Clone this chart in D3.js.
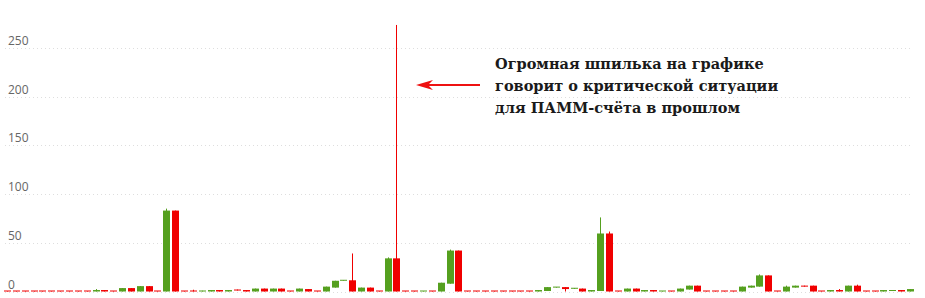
<!DOCTYPE html>
<html>
<head>
<meta charset="utf-8">
<script src="https://cdn.jsdelivr.net/npm/d3@7"></script>
<style>
	body { margin: 0; background: #fff; }
	svg { display: block; }
</style>
</head>
<body>
<div id="chart"></div>
<script>
// candle values (one per period, left to right)
var open = [
	0.5, 0.5, 0.5, 0.5, 0.5, 0.5, 0.5, 0.5, 0.5, 0.5,
	0, 1.5, 0.5, 0, 3.5, 0, 5.5, 0.5, 0, 83,
	0.5, 0.5, 0, 0, 1.5, 0, 2, 1.5, 0, 3,
	0, 3, 0.5, 0, 2.5, 0.5, 0, 4, 11, 11.5,
	0, 4, 0.5, 0, 34, 0.5, 0.5, 0, 0.5, 0,
	8, 42, 0.5, 0.5, 0.5, 0.5, 0.5, 0.5, 0.5, 0.5,
	0, 0.5, 4, 4.5, 2.8, 3, 0, 0.5, 59.5, 0.5,
	0, 3, 0, 1.5, 0, 0.5, 0, 2, 6, 0.5,
	0.5, 0.5, 0.5, 0, 4, 5, 16.5, 0.5, 0, 4,
	6, 6, 0.5, 0, 1.5, 0, 6, 0.5, 0.5, 0,
	0.5, 1.5, 0
];
var close = [
	0, 0, 0, 0, 0, 0, 0, 0, 0, 0,
	1.5, 0, 0, 3.5, 0, 5.5, 0, 0, 83, 0,
	0, 0, 0.8, 1.5, 0, 1.5, 1, 0, 3, 0,
	3, 0, 0, 3, 0, 0, 5, 11, 11.6, 0,
	4, 0, 0, 34, 0, 0, 0, 0.5, 0, 9,
	42, 0, 0, 0, 0, 0, 0, 0, 0, 0,
	1.5, 4.5, 4.6, 2.5, 3.6, 0, 1.5, 59.5, 0, 0,
	3, 0, 1.5, 0, 0.5, 0, 3, 6, 0, 0,
	0, 0, 0, 5, 6, 16.5, 0, 0, 5, 6,
	5, 0, 0, 1.5, 0, 6, 0, 0, 0, 1.5,
	1.2, 0, 2.5
];
var high = [
	0.5, 0.5, 0.5, 0.5, 0.5, 0.5, 0.5, 0.5, 0.5, 0.5,
	2.5, 1.5, 0.5, 3.5, 3.5, 5.5, 5.5, 0.5, 85, 83,
	0.5, 1.8, 0.8, 1.5, 1.5, 1.5, 2, 1.5, 3, 3,
	3, 3, 0.5, 3, 2.5, 0.5, 5, 11, 11.6, 39,
	4, 4, 0.5, 35, 273.4, 0.5, 0.5, 0.5, 0.5, 9,
	43, 42, 0.5, 0.5, 0.5, 0.5, 0.5, 0.5, 0.5, 0.5,
	1.5, 4.5, 4.6, 4.5, 3.6, 3, 1.5, 76, 61.5, 0.5,
	3, 3, 1.5, 1.5, 0.5, 0.5, 3, 6, 6, 0.5,
	0.5, 0.5, 0.5, 5, 6, 17.5, 16.5, 0.5, 6, 6,
	6, 6, 0.5, 1.5, 2.5, 6, 7, 0.5, 0.5, 1.5,
	1.2, 1.5, 2.5
];
var low = [
	0, 0, 0, 0, 0, 0, 0, 0, 0, 0,
	0, 0, 0, 0, 0, 0, 0, 0, 0, 0,
	0, 0, 0, 0, 0, 0, 1, 0, 0, 0,
	0, 0, 0, 0, 0, 0, 0, 4, 11, 0,
	0, 0, 0, 0, 0, 0, 0, 0, 0, 0,
	8, 0, 0, 0, 0, 0, 0, 0, 0, 0,
	0, 0.5, 4, 0, 2.8, 0, 0, 0.5, 0, 0,
	0, 0, 0, 0, 0, 0, 0, 2, 0, 0,
	0, 0, 0, 0, 4, 5, 0, 0, 0, 4,
	5, 0, 0, 0, 0, 0, 0, 0, 0, 0,
	0.5, 0, 0
];
var yTicks = [0, 50, 100, 150, 200, 250];
var note = [
	"Огромная шпилька на графике",
	"говорит о критической ситуации",
	"для ПАММ-счёта в прошлом"
];

var width = 925,
	height = 298;
var up = "#55a01f",
	down = "#f00000";

var svg = d3.select("#chart")
	.append("svg")
	.attr("width", width)
	.attr("height", height);

var x = d3.scaleBand()
	.domain(d3.range(open.length))
	.range([4, 914])
	.paddingInner(0.2);
var y = d3.scaleLinear()
	.domain([0, 299])
	.range([291.5, 0]);

// grid
svg.append("g")
	.selectAll("line")
	.data(yTicks)
	.enter().append("line")
	.attr("x1", 5)
	.attr("x2", 912)
	.attr("y1", function(d) { return Math.round(y(d)) + 0.5; })
	.attr("y2", function(d) { return Math.round(y(d)) + 0.5; })
	.attr("stroke", "#dedede")
	.attr("stroke-width", 1)
	.attr("stroke-dasharray", "1,3");

// tick labels
svg.append("g")
	.selectAll("text")
	.data(yTicks)
	.enter().append("text")
	.attr("x", 8)
	.attr("y", function(d) { return Math.round(y(d)) - 3; })
	.style("font-family", "'Open Sans', sans-serif")
	.style("font-size", "12px")
	.style("fill", "#666")
	.text(function(d) { return d; });

// candles
var candles = d3.range(open.length).map(function(i) {
	return { i: i, o: open[i], c: close[i], h: high[i], l: low[i] };
});
var g = svg.append("g");
var bw = Math.round(x.bandwidth());

g.selectAll("line.wick")
	.data(candles)
	.enter().append("line")
	.attr("class", "wick")
	.attr("x1", function(d) { return Math.round(x(d.i)) + Math.floor(bw / 2) + 0.5; })
	.attr("x2", function(d) { return Math.round(x(d.i)) + Math.floor(bw / 2) + 0.5; })
	.attr("y1", function(d) { return y(d.h); })
	.attr("y2", function(d) { return y(d.l); })
	.attr("stroke", function(d) { return d.c >= d.o ? up : down; })
	.attr("stroke-width", 1);

g.selectAll("rect")
	.data(candles)
	.enter().append("rect")
	.attr("x", function(d) { return Math.round(x(d.i)); })
	.attr("width", bw)
	.attr("y", function(d) {
		var top = y(Math.max(d.o, d.c)), bot = y(Math.min(d.o, d.c));
		return bot - top < 1 ? bot - 1 : top;
	})
	.attr("height", function(d) {
		return Math.max(1, Math.abs(y(d.o) - y(d.c)));
	})
	.attr("fill", function(d) { return d.c >= d.o ? up : down; });

// annotation
var ax = 416, ay = 85;
svg.append("path")
	.attr("d", "M" + (ax + 64) + "," + ay + "H" + (ax + 8))
	.attr("stroke", "#ee1111")
	.attr("stroke-width", 2)
	.attr("fill", "none");
svg.append("path")
	.attr("d", "M" + ax + "," + ay + "L" + (ax + 17) + "," + (ay - 5) +
		"L" + (ax + 12) + "," + ay + "L" + (ax + 17) + "," + (ay + 5) + "Z")
	.attr("fill", "#ee1111");

svg.append("g")
	.selectAll("text")
	.data(note)
	.enter().append("text")
	.attr("x", 495)
	.attr("y", function(d, i) { return 69 + i * 22; })
	.style("font-family", "'DejaVu Serif', serif")
	.style("font-weight", "bold")
	.style("font-size", "14.5px")
	.style("fill", "#1a1a1a")
	.text(function(d) { return d; });
</script>
</body>
</html>
